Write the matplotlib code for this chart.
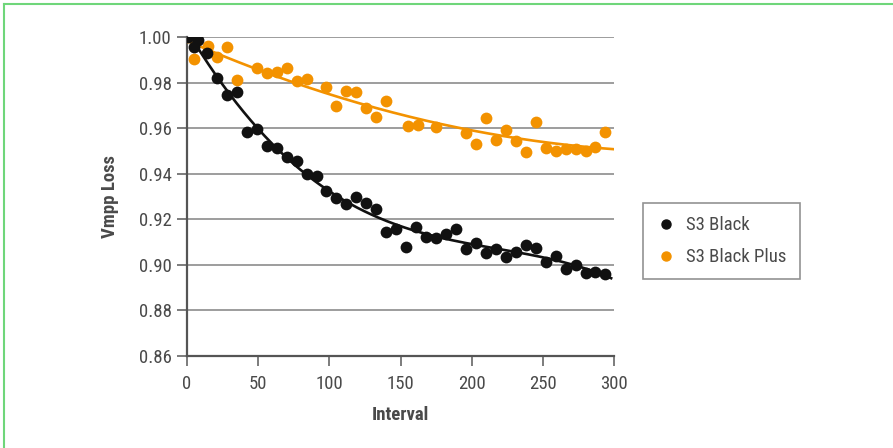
import numpy as np
import matplotlib
matplotlib.use("Agg")
import matplotlib.pyplot as plt
from matplotlib.lines import Line2D

plt.rcParams['font.family'] = ['Roboto Condensed', 'Liberation Sans Narrow', 'Roboto', 'DejaVu Sans']

# S3 Black readings (interval, Vmpp loss)
black_x = [1, 5, 8, 14, 21, 28, 35, 42, 49, 56, 63, 70, 77, 84, 91, 98, 105, 112, 119, 126,
           133, 140, 147, 154, 161, 168, 175, 182, 189, 196, 203, 210, 217, 224, 231, 238,
           245, 252, 259, 266, 273, 280, 287, 294]
black_y = [1.000, 0.9956, 0.9987, 0.9930, 0.9820, 0.9746, 0.9759, 0.9583, 0.9596, 0.9522,
           0.9513, 0.9474, 0.9456, 0.9399, 0.9390, 0.9325, 0.9294, 0.9268, 0.9298, 0.9272,
           0.9246, 0.9145, 0.9158, 0.9079, 0.9167, 0.9123, 0.9118, 0.9136, 0.9158, 0.9070,
           0.9096, 0.9053, 0.9070, 0.9035, 0.9057, 0.9088, 0.9075, 0.9013, 0.9039, 0.8982,
           0.9000, 0.8965, 0.8969, 0.8961]

# S3 Black Plus readings
plus_x = [0, 5, 15, 21, 28, 35, 49, 56, 63, 70, 77, 84, 98, 105, 112, 119, 126, 133, 140,
          155, 162, 175, 196, 203, 210, 217, 224, 231, 238, 245, 252, 259, 266, 273, 280,
          287, 294]
plus_y = [1.000, 0.9904, 0.9961, 0.9912, 0.9956, 0.9811, 0.9864, 0.9842, 0.9846, 0.9864,
          0.9807, 0.9816, 0.9781, 0.9697, 0.9763, 0.9759, 0.9689, 0.9649, 0.9719, 0.9610,
          0.9614, 0.9605, 0.9579, 0.9531, 0.9645, 0.9548, 0.9592, 0.9544, 0.9496, 0.9627,
          0.9513, 0.9500, 0.9509, 0.9509, 0.9500, 0.9518, 0.9583]

yticks = [0.86, 0.88, 0.90, 0.92, 0.94, 0.96, 0.98, 1.00]
xticks = [0, 50, 100, 150, 200, 250, 300]

BLACK = '#111111'
ORANGE = '#F39200'
TXT = '#4a4a4a'

fig = plt.figure(figsize=(8.93, 4.48), dpi=100)
ax = fig.add_axes([187 / 893, 92 / 448, 427 / 893, 319 / 448])

# trend lines (polynomial fits, like the spreadsheet trendlines)
xs = np.linspace(0, 298, 300)
bfit = np.polyfit(black_x, black_y, 4)
pfit = np.polyfit(plus_x, plus_y, 2)
ax.plot(xs, np.polyval(bfit, xs), color=BLACK, lw=1.9, zorder=3)
xp = np.linspace(0, 300, 300)
ax.plot(xp, np.polyval(pfit, xp), color=ORANGE, lw=1.9, zorder=3)

ax.scatter(plus_x, plus_y, s=72, color=ORANGE, zorder=4, linewidths=0)
ax.scatter(black_x, black_y, s=72, color=BLACK, zorder=5, linewidths=0)

ax.set_xlim(0, 300)
ax.set_ylim(0.86, 1.00)
ax.set_xticks(xticks)
ax.set_yticks(yticks)
ax.set_yticklabels([f'{v:.2f}' for v in yticks])
ax.yaxis.grid(True, color='#8c8c8c', lw=1.2)
ax.set_axisbelow(True)
for s in ['top', 'right']:
    ax.spines[s].set_visible(False)
for s in ['left', 'bottom']:
    ax.spines[s].set_color('#555555')
    ax.spines[s].set_linewidth(1.6)
ax.tick_params(axis='both', colors='#666666', labelcolor=TXT, labelsize=13.5,
               length=7, width=1.2)
ax.tick_params(axis='x', pad=7)
ax.tick_params(axis='y', pad=4)

ax.set_ylabel('Vmpp Loss', fontsize=13.5, fontweight='bold', color=TXT, labelpad=14)
ax.set_xlabel('Interval', fontsize=13.5, fontweight='bold', color=TXT, labelpad=9)

handles = [Line2D([], [], ls='none', marker='o', ms=6.5, color=BLACK, label='S3 Black'),
           Line2D([], [], ls='none', marker='o', ms=6.5, color=ORANGE, label='S3 Black Plus')]
leg = fig.legend(handles=handles, loc='upper left', bbox_to_anchor=(643 / 893, 1 - 203 / 448),
                 frameon=True, fancybox=False, fontsize=13.5, labelcolor=TXT,
                 handletextpad=0.6, borderpad=0.7, labelspacing=0.75, handlelength=1.0,
                 borderaxespad=0)
leg.get_frame().set_edgecolor('#777777')
leg.get_frame().set_linewidth(1.2)

# green border along the top and left edges
fig.add_artist(Line2D([4 / 893, 4 / 893], [0, 1 - 4 / 448], transform=fig.transFigure,
                      color='#6fd67a', lw=1.5))
fig.add_artist(Line2D([4 / 893, 1], [1 - 4 / 448, 1 - 4 / 448], transform=fig.transFigure,
                      color='#6fd67a', lw=1.5))

fig.savefig('out.png', dpi=100)
